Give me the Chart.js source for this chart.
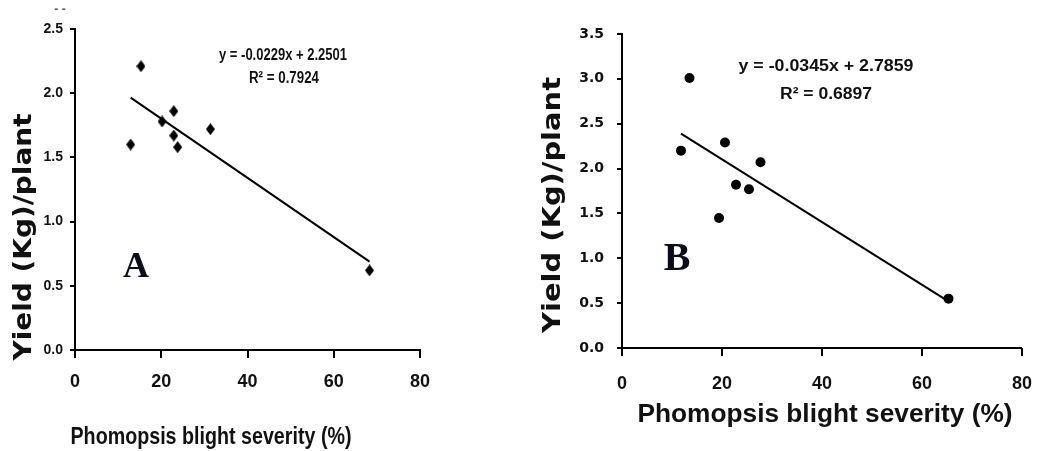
<!DOCTYPE html>
<html>
<head>
<meta charset="utf-8">
<title>Yield vs Phomopsis blight severity</title>
<script src="https://cdn.jsdelivr.net/npm/chart.js@4.4.0/dist/chart.umd.min.js"></script>
<style>
    body { margin: 0; background: #fff; width: 1051px; height: 451px; overflow: hidden; position: relative; }
    canvas { position: absolute; top: 0; }
</style>
</head>
<body>
<canvas id="chartA" width="530" height="451" style="left:0px"></canvas>
<canvas id="chartB" width="521" height="451" style="left:530px"></canvas>
<script>
// panel A
var severityA = [12.9, 15.3, 20.2, 22.9, 22.9, 23.8, 31.4, 68.3];
var yieldA = [1.60, 2.21, 1.78, 1.86, 1.67, 1.58, 1.72, 0.62];
var trendXA = [12.9, 68.3];
var trendYA = [1.965, 0.688];
var equationA = ['y = -0.0229x + 2.2501', 'R² = 0.7924'];

// panel B
var severityB = [11.8, 13.5, 20.6, 19.4, 22.8, 25.4, 27.7, 65.3];
var yieldB = [2.20, 3.01, 2.29, 1.45, 1.82, 1.77, 2.07, 0.55];
var trendXB = [11.8, 65.3];
var trendYB = [2.39, 0.52];
var equationB = ['y = -0.0345x + 2.7859', 'R² = 0.6897'];

var xTicks = [0, 20, 40, 60, 80];
var yTicksA = [0, 0.5, 1.0, 1.5, 2.0, 2.5];
var yTicksB = [0, 0.5, 1.0, 1.5, 2.0, 2.5, 3.0, 3.5];
var xTitle = 'Phomopsis blight severity (%)';
var yTitle = 'Yield (Kg)/plant';

function toPoints(xs, ys) {
    var pts = [];
    for (var i = 0; i < xs.length; i++) pts.push({x: xs[i], y: ys[i]});
    return pts;
}

function diamond(w, h) {
    var c = document.createElement('canvas');
    c.width = w; c.height = h;
    var g = c.getContext('2d');
    g.fillStyle = '#000';
    g.beginPath();
    g.moveTo(w / 2, 0); g.lineTo(w, h / 2); g.lineTo(w / 2, h); g.lineTo(0, h / 2);
    g.closePath();
    g.fill();
    return c;
}

// outward tick marks on both axes, placed by the scales
var tickMarks = {
    id: 'tickMarks',
    afterDraw: function(chart) {
        var ctx = chart.ctx;
        var area = chart.chartArea;
        var sx = chart.scales.x, sy = chart.scales.y;
        ctx.save();
        ctx.strokeStyle = '#000';
        ctx.lineWidth = 2;
        ctx.beginPath();
        sx.ticks.forEach(function(t) {
            var px = Math.round(sx.getPixelForValue(t.value));
            ctx.moveTo(px, area.bottom);
            ctx.lineTo(px, area.bottom + 8);
        });
        sy.ticks.forEach(function(t) {
            var py = Math.round(sy.getPixelForValue(t.value));
            ctx.moveTo(area.left, py);
            ctx.lineTo(area.left - 5, py);
        });
        ctx.stroke();
        ctx.restore();
    }
};

// text drawn in page coordinates, squeezed/stretched to the width seen in the picture
function notesPlugin(items, offsetX) {
    return {
        id: 'notes',
        afterDraw: function(chart) {
            var ctx = chart.ctx;
            items.forEach(function(n) {
                ctx.save();
                ctx.font = n.font;
                ctx.fillStyle = n.color || '#111';
                ctx.textAlign = 'center';
                ctx.textBaseline = 'middle';
                ctx.translate(n.x - offsetX, n.y);
                if (n.rot) ctx.rotate(n.rot * Math.PI / 180);
                if (n.w) ctx.scale(n.w / ctx.measureText(n.t).width, 1);
                ctx.fillText(n.t, 0, 0);
                ctx.restore();
            });
        }
    };
}

function veBieuDo(id, cfg) {
    var data = {
        datasets: [{
            type: 'scatter',
            data: toPoints(cfg.xs, cfg.ys),
            pointStyle: cfg.pointStyle,
            pointRadius: cfg.radius,
            backgroundColor: '#000',
            borderColor: '#000',
            borderWidth: 0
        }, {
            type: 'line',
            data: toPoints(cfg.tx, cfg.ty),
            borderColor: '#000',
            borderWidth: 2,
            pointRadius: 0,
            fill: false
        }]
    };
    var options = {
        responsive: false,
        animation: false,
        events: [],
        layout: {padding: cfg.padding},
        plugins: {legend: {display: false}, tooltip: {enabled: false}},
        scales: {
            x: {
                type: 'linear', min: 0, max: 80,
                afterBuildTicks: function(s) { s.ticks = xTicks.map(function(v) { return {value: v}; }); },
                afterFit: function(s) { s.height = cfg.xHeight; },
                ticks: {color: '#111', padding: cfg.xPad, font: cfg.xFont},
                grid: {display: false, tickLength: 8},
                border: {display: true, color: '#000', width: 2}
            },
            y: {
                type: 'linear', min: 0, max: cfg.yMax,
                afterBuildTicks: function(s) { s.ticks = cfg.yTicks.map(function(v) { return {value: v}; }); },
                afterFit: function(s) { s.width = cfg.yWidth; },
                ticks: {color: '#111', padding: cfg.yPad, font: cfg.yFont,
                        callback: function(v) { return Number(v).toFixed(1); }},
                grid: {display: false, tickLength: 5},
                border: {display: true, color: '#000', width: 2}
            }
        }
    };
    return new Chart(document.getElementById(id), {
        data: data,
        options: options,
        plugins: [tickMarks, notesPlugin(cfg.notes, cfg.offsetX)]
    });
}

veBieuDo('chartA', {
    xs: severityA, ys: yieldA, tx: trendXA, ty: trendYA,
    pointStyle: diamond(9, 12), radius: 5,
    yMax: 2.5, yTicks: yTicksA,
    padding: {left: 0, top: 29, right: 110, bottom: 0},
    xHeight: 101, yWidth: 75,
    xPad: 15, yPad: 7,
    xFont: {family: '"Liberation Sans", Arial, sans-serif', weight: 'bold', size: 18, lineHeight: 1},
    yFont: {family: '"Liberation Sans", Arial, sans-serif', weight: 'bold', size: 14, lineHeight: 1},
    offsetX: 0,
    notes: [
        {t: yTitle, x: 24, y: 237, w: 247, rot: -90, font: 'bold 25px "DejaVu Sans"'},
        {t: xTitle, x: 211, y: 437, w: 281, font: 'bold 24px "Liberation Sans"'},
        {t: equationA[0], x: 283, y: 56, w: 128, font: 'bold 16px "Liberation Sans"'},
        {t: equationA[1], x: 284, y: 79, w: 70, font: 'bold 16px "Liberation Sans"'},
        {t: 'A', x: 136, y: 268, font: 'bold 36px "Liberation Serif"', color: '#0b0b1e'},
        {t: '- -', x: 60, y: 10, font: 'bold 12px "Liberation Sans"', color: '#555'}
    ]
});

veBieuDo('chartB', {
    xs: severityB, ys: yieldB, tx: trendXB, ty: trendYB,
    pointStyle: 'circle', radius: 5,
    yMax: 3.5, yTicks: yTicksB,
    padding: {left: 0, top: 34, right: 13, bottom: 0},
    xHeight: 103, yWidth: 92,
    xPad: 19, yPad: 13,
    xFont: {family: '"Liberation Sans", Arial, sans-serif', weight: 'bold', size: 18, lineHeight: 1},
    yFont: {family: '"DejaVu Sans", sans-serif', weight: 'bold', size: 14, lineHeight: 1},
    offsetX: 530,
    notes: [
        {t: yTitle, x: 553, y: 205, w: 256, rot: -90, font: 'bold 25px "DejaVu Sans"'},
        {t: xTitle, x: 825, y: 415, w: 375, font: 'bold 25px "Liberation Sans"'},
        {t: equationB[0], x: 826, y: 67, w: 175, font: 'bold 16px "Liberation Sans"'},
        {t: equationB[1], x: 826, y: 95, w: 92, font: 'bold 16px "Liberation Sans"'},
        {t: 'B', x: 677, y: 260, font: 'bold 40px "Liberation Serif"', color: '#0b0b1e'}
    ]
});
</script>
</body>
</html>
